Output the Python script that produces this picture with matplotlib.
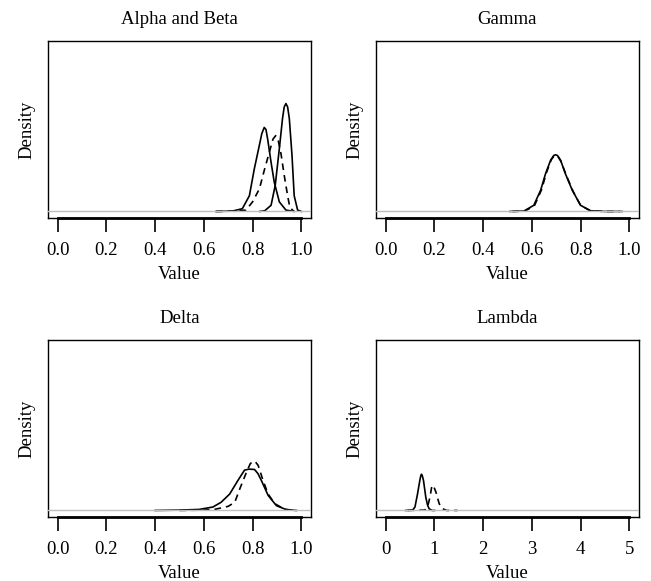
"""
Density curves in four panels, R base-graphics look.
"""

import matplotlib
matplotlib.use("Agg")
import matplotlib.pyplot as plt

plt.rcParams['font.family'] = ['Liberation Serif', 'DejaVu Serif']
plt.rcParams['font.size'] = 13.5

# Alpha and Beta panel
alpha_x = [0.65, 0.717, 0.758, 0.787, 0.807, 0.828, 0.838, 0.848, 0.855, 0.862,
           0.876, 0.889, 0.910, 0.937, 0.97]
alpha_d = [0.0, 0.05, 0.4, 2.3, 6.2, 9.7, 11.4, 12.3, 12.0, 10.6,
           7.2, 4.3, 1.4, 0.2, 0.0]
beta_x = [0.83, 0.85, 0.876, 0.893, 0.910, 0.923, 0.930, 0.937, 0.944, 0.951,
          0.962, 0.971, 0.985, 1.0]
beta_d = [0.0, 0.1, 0.9, 3.8, 9.2, 13.6, 15.3, 15.8, 15.3, 13.6,
          8.2, 2.3, 0.2, 0.0]
ab_ref_x = [0.65, 0.72, 0.773, 0.80, 0.828, 0.848, 0.869, 0.884, 0.895, 0.906,
            0.917, 0.930, 0.944, 0.953, 0.97]
ab_ref_d = [0.0, 0.05, 0.2, 1.4, 3.3, 6.0, 8.7, 10.6, 11.1, 10.3,
            8.4, 5.3, 2.3, 0.6, 0.0]

# Gamma panel
gamma_x = [0.51, 0.567, 0.608, 0.636, 0.656, 0.677, 0.690, 0.697, 0.705, 0.718,
           0.738, 0.766, 0.80, 0.841, 0.90, 0.97]
gamma_d = [0.0, 0.05, 0.9, 3.1, 5.5, 7.5, 8.2, 8.3, 8.2, 7.5,
           5.5, 3.1, 0.9, 0.1, 0.0, 0.0]
gamma_ref_x = [0.52, 0.57, 0.61, 0.64, 0.66, 0.68, 0.693, 0.700, 0.708, 0.72,
               0.74, 0.77, 0.80, 0.84, 0.90, 0.96]
gamma_ref_d = [0.0, 0.05, 0.8, 3.2, 5.7, 7.6, 8.2, 8.2, 8.0, 7.3,
               5.4, 2.9, 0.9, 0.1, 0.0, 0.0]

# Delta panel
delta_x = [0.40, 0.50, 0.581, 0.637, 0.671, 0.706, 0.74, 0.767, 0.785, 0.808,
           0.822, 0.836, 0.864, 0.898, 0.94, 0.98]
delta_d = [0.0, 0.05, 0.15, 0.5, 1.2, 2.4, 4.4, 5.9, 6.05, 6.0,
           5.4, 4.4, 2.2, 0.7, 0.1, 0.0]
delta_ref_x = [0.50, 0.60, 0.65, 0.70, 0.727, 0.748, 0.775, 0.790, 0.80, 0.812,
               0.823, 0.843, 0.864, 0.891, 0.93, 0.97]
delta_ref_d = [0.0, 0.05, 0.2, 0.6, 1.2, 3.2, 5.6, 6.8, 7.2, 7.1,
               6.6, 4.4, 2.4, 1.0, 0.2, 0.0]

# Lambda panel
lambda_x = [0.41, 0.55, 0.60, 0.652, 0.70, 0.72, 0.734, 0.75, 0.775, 0.823,
            0.858, 0.891, 0.95, 1.0]
lambda_d = [0.0, 0.05, 0.5, 2.4, 4.4, 5.1, 5.3, 5.1, 4.4, 1.9,
            0.8, 0.25, 0.0, 0.0]
lambda_ref_x = [0.45, 0.80, 0.858, 0.91, 0.94, 0.96, 0.985, 1.03, 1.097, 1.15,
                1.25, 1.475]
lambda_ref_d = [0.0, 0.05, 0.5, 2.0, 3.3, 3.7, 3.5, 2.7, 1.0, 0.3,
                0.0, 0.0]

titles = ["Alpha and Beta", "Gamma", "Delta", "Lambda"]
unit_ticks = [0.0, 0.2, 0.4, 0.6, 0.8, 1.0]
unit_labels = ["0.0", "0.2", "0.4", "0.6", "0.8", "1.0"]
lambda_ticks = [0, 1, 2, 3, 4, 5]
lambda_labels = ["0", "1", "2", "3", "4", "5"]
y_top = 24.0

panels = [
    (titles[0], [(alpha_x, alpha_d, '-'), (beta_x, beta_d, '-'),
                 (ab_ref_x, ab_ref_d, '--')], unit_ticks, unit_labels),
    (titles[1], [(gamma_x, gamma_d, '-'), (gamma_ref_x, gamma_ref_d, '--')],
     unit_ticks, unit_labels),
    (titles[2], [(delta_x, delta_d, '-'), (delta_ref_x, delta_ref_d, '--')],
     unit_ticks, unit_labels),
    (titles[3], [(lambda_x, lambda_d, '-'), (lambda_ref_x, lambda_ref_d, '--')],
     lambda_ticks, lambda_labels),
]

W, H = 651, 581
fig = plt.figure(figsize=(W / 100, H / 100), dpi=100)

# panel boxes in pixels: left, top
boxes = [(48, 41), (376, 41), (48, 340), (376, 340)]
bw, bh = 263, 177

for (title, curves, ticks, labels), (left, top) in zip(panels, boxes):
    ax = fig.add_axes([left / W, 1 - (top + bh) / H, bw / W, bh / H])
    for xs, ds, ls in curves:
        if ls == '--':
            ax.plot(xs, ds, color='black', lw=1.2, dashes=(4, 3))
        else:
            ax.plot(xs, ds, color='black', lw=1.2)
    ax.axhline(0, color='#BEBEBE', lw=1.0, zorder=5)

    span = ticks[-1] - ticks[0]
    ax.set_xlim(ticks[0] - 0.04 * span, ticks[-1] + 0.04 * span)
    ax.set_ylim(-0.04 * y_top, 1.04 * y_top)
    ax.set_xticks(ticks)
    ax.set_xticklabels(labels)
    ax.set_yticks([])
    ax.tick_params(axis='x', which='major', direction='out', length=10,
                   width=1.2, color='black', pad=7, bottom=True)
    for s in ax.spines.values():
        s.set_linewidth(1)
    # R-style axis line over the box bottom
    ax.plot([ticks[0], ticks[-1]], [-0.04 * y_top] * 2, color='black',
            lw=2, clip_on=False, zorder=6)

    ax.set_title(title, pad=12, fontsize=13.5)
    ax.set_xlabel("Value", labelpad=5.5)
    ax.set_ylabel("Density", labelpad=9)

fig.savefig("out.png", dpi=100)
plt.close()
